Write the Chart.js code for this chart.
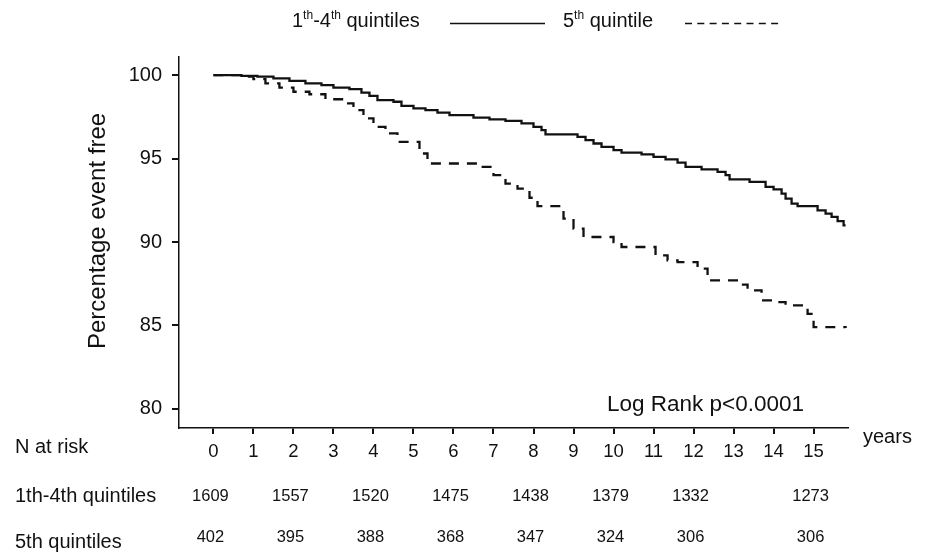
<!DOCTYPE html>
<html>
<head>
<meta charset="utf-8">
<script src="https://cdn.jsdelivr.net/npm/chart.js@4.4.0/dist/chart.umd.min.js"></script>
<style>
  body { margin: 0; background: #fff; }
  canvas { display: block; }
</style>
</head>
<body>
<canvas id="km" width="934" height="553"></canvas>
<script>
// Kaplan-Meier estimates (years, % event free)
const solidTimes = [0, 0.7, 1.1, 1.5, 1.9, 2.3, 2.7, 3.0, 3.4, 3.7, 3.9, 4.1, 4.5, 4.7, 5.0, 5.3, 5.6, 5.9, 6.5, 6.9, 7.3, 7.7, 8.0, 8.2, 8.3, 9.1, 9.3, 9.5, 9.7, 10.0, 10.2, 10.7, 11.0, 11.3, 11.6, 11.8, 12.2, 12.6, 12.8, 12.9, 13.4, 13.8, 14.0, 14.2, 14.3, 14.45, 14.6, 15.1, 15.3, 15.45, 15.6, 15.75, 15.8];
const solidPct = [100, 99.95, 99.9, 99.8, 99.65, 99.5, 99.4, 99.25, 99.15, 98.95, 98.75, 98.5, 98.4, 98.15, 98.0, 97.9, 97.75, 97.6, 97.45, 97.35, 97.25, 97.1, 96.9, 96.7, 96.45, 96.3, 96.1, 95.9, 95.7, 95.5, 95.35, 95.25, 95.1, 94.95, 94.75, 94.5, 94.35, 94.2, 94.0, 93.75, 93.6, 93.3, 93.15, 92.9, 92.6, 92.3, 92.15, 91.9, 91.7, 91.5, 91.25, 91.0, 91.0];

const dashedTimes = [0, 0.7, 1.0, 1.3, 1.65, 2.0, 2.4, 2.8, 3.3, 3.5, 3.75, 4.0, 4.3, 4.6, 5.15, 5.35, 6.6, 7.0, 7.3, 7.6, 7.9, 8.1, 8.75, 9.0, 9.25, 10.0, 10.2, 11.05, 11.35, 11.6, 12.1, 12.35, 13.15, 13.35, 13.7, 14.0, 14.3, 14.85, 15.0, 15.8];
const dashedPct = [100, 99.9, 99.75, 99.5, 99.25, 99.0, 98.85, 98.55, 98.3, 97.9, 97.4, 96.9, 96.5, 96.0, 95.3, 94.7, 94.5, 94.0, 93.5, 93.2, 92.65, 92.15, 91.4, 90.8, 90.3, 90.0, 89.7, 89.2, 88.9, 88.8, 88.4, 87.7, 87.45, 87.1, 86.5, 86.4, 86.2, 85.7, 84.9, 84.85];

const xTicks = [0, 1, 2, 3, 4, 5, 6, 7, 8, 9, 10, 11, 12, 13, 14, 15];
const yTicks = [80, 85, 90, 95, 100];

// numbers at risk
const riskTimes = [0, 2, 4, 6, 8, 10, 12, 15];
const riskSolid = [1609, 1557, 1520, 1475, 1438, 1379, 1332, 1273];
const riskDashed = [402, 395, 388, 368, 347, 324, 306, 306];

const FONT = "'Liberation Sans', Arial, sans-serif";
const INK = '#111';

function toPoints(xs, ys) {
  return xs.map((x, i) => ({ x: x, y: ys[i] }));
}

// draws a string made of [text, isSuperscript] parts
function drawRich(ctx, parts, x, y, size) {
  parts.forEach(p => {
    if (p[1]) {
      ctx.font = Math.round(size * 0.62) + 'px ' + FONT;
      ctx.fillText(p[0], x, y - size * 0.38);
    } else {
      ctx.font = size + 'px ' + FONT;
      ctx.fillText(p[0], x, y);
    }
    x += ctx.measureText(p[0]).width;
  });
  return x;
}

const extras = {
  id: 'extras',
  afterDraw(chart) {
    const ctx = chart.ctx;
    const xs = chart.scales.x;
    ctx.save();
    ctx.fillStyle = INK;
    ctx.textBaseline = 'alphabetic';

    // legend
    drawRich(ctx, [['1', false], ['th', true], ['-4', false], ['th', true], [' quintiles', false]], 292, 27, 20);
    drawRich(ctx, [['5', false], ['th', true], [' quintile', false]], 563, 27, 20);
    ctx.strokeStyle = INK;
    ctx.lineWidth = 1.4;
    ctx.beginPath();
    ctx.moveTo(450, 23.5);
    ctx.lineTo(545, 23.5);
    ctx.stroke();
    ctx.setLineDash([7, 5.3]);
    ctx.beginPath();
    ctx.moveTo(685, 23.5);
    ctx.lineTo(780, 23.5);
    ctx.stroke();
    ctx.setLineDash([]);

    // y axis title
    ctx.save();
    ctx.translate(105, 231);
    ctx.rotate(-Math.PI / 2);
    ctx.textAlign = 'center';
    ctx.font = '24px ' + FONT;
    ctx.fillText('Percentage event free', 0, 0);
    ctx.restore();

    // annotation and axis word
    ctx.font = '22.5px ' + FONT;
    ctx.fillText('Log Rank p<0.0001', 607, 411);
    ctx.font = '20px ' + FONT;
    ctx.fillText('years', 863, 443);

    // risk table
    ctx.font = '20px ' + FONT;
    ctx.fillText('N at risk', 15, 453);
    ctx.fillText('1th-4th quintiles', 15, 502);
    ctx.fillText('5th quintiles', 15, 548);
    ctx.font = '16.5px ' + FONT;
    ctx.textAlign = 'center';
    riskTimes.forEach((t, i) => {
      const px = xs.getPixelForValue(t) - 3;
      ctx.fillText(String(riskSolid[i]), px, 501);
      ctx.fillText(String(riskDashed[i]), px, 542);
    });
    ctx.restore();
  }
};

new Chart(document.getElementById('km'), {
  type: 'line',
  data: {
    datasets: [{
      label: '1th-4th quintiles',
      data: toPoints(solidTimes, solidPct),
      borderColor: INK,
      borderWidth: 2.3,
      stepped: true,
      pointRadius: 0,
      fill: false
    }, {
      label: '5th quintile',
      data: toPoints(dashedTimes, dashedPct),
      borderColor: INK,
      borderWidth: 2.3,
      borderDash: [10, 8],
      stepped: true,
      pointRadius: 0,
      fill: false
    }]
  },
  options: {
    responsive: false,
    animation: false,
    layout: { padding: { left: 0, top: 57, right: 86, bottom: 0 } },
    plugins: {
      legend: { display: false },
      tooltip: { enabled: false }
    },
    scales: {
      x: {
        type: 'linear',
        min: -0.86,
        max: 15.86,
        afterBuildTicks: s => { s.ticks = xTicks.map(v => ({ value: v })); },
        afterFit: s => { s.height = 125; },
        grid: { drawOnChartArea: false, drawTicks: true, tickLength: 6, color: INK, lineWidth: 2 },
        border: { display: true, color: INK, width: 1.5 },
        ticks: { color: INK, padding: 7, maxRotation: 0, font: { family: FONT, size: 18.5 } }
      },
      y: {
        type: 'linear',
        min: 78.86,
        max: 101.08,
        afterBuildTicks: s => { s.ticks = yTicks.map(v => ({ value: v })); },
        afterFit: s => { s.width = 179; },
        grid: { drawOnChartArea: false, drawTicks: true, tickLength: 7, color: INK, lineWidth: 2 },
        border: { display: true, color: INK, width: 1.5 },
        ticks: { color: INK, padding: 10, font: { family: FONT, size: 20 } }
      }
    }
  },
  plugins: [extras]
});
</script>
</body>
</html>
